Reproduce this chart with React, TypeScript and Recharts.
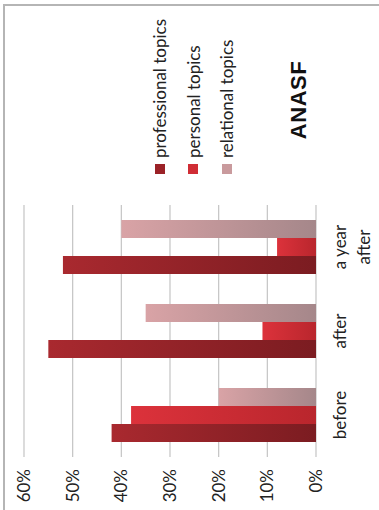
import { BarChart, Bar, XAxis, YAxis, CartesianGrid } from "recharts";

const categories = ["before", "after", "a year after"];
const tickLines = [["before"], ["after"], ["a year", "after"]];
const professional = [42, 55, 52];
const personal = [38, 11, 8];
const relational = [20, 35, 40];
const valueTicks = [0, 10, 20, 30, 40, 50, 60];

const SERIES = [
  { key: "professional", name: "professional topics", grad: "gProf", swatch: "#9b2227" },
  { key: "personal", name: "personal topics", grad: "gPers", swatch: "#d02d35" },
  { key: "relational", name: "relational topics", grad: "gRel", swatch: "#c99a9d" },
];

const data = categories.map((c, i) => ({
  category: c,
  professional: professional[i],
  personal: personal[i],
  relational: relational[i],
}));

const FONT = "Lato, 'Open Sans', sans-serif";

const CategoryTick = (props: any) => {
  const { x, y, index } = props;
  const lines = tickLines[index] || [String(props.payload.value)];
  return (
    <text x={x} y={y + 30} textAnchor="middle" fill="#222" fontSize={17} fontFamily={FONT}>
      {lines.map((l, i) => (
        <tspan key={i} x={x} dy={i === 0 ? 0 : 24}>
          {l}
        </tspan>
      ))}
    </text>
  );
};

// legend drawn by hand, next to the plot (chart is rotated as a whole)
const LegendBox = () => (
  <div
    style={{
      position: "absolute",
      left: 336,
      top: 143,
      width: 174,
      fontFamily: FONT,
      fontSize: 17,
      color: "#222",
    }}
  >
    {SERIES.map((s) => (
      <div key={s.key} style={{ height: 33.5, display: "flex", alignItems: "center" }}>
        <span style={{ width: 10, height: 10, background: s.swatch, marginRight: 6, display: "inline-block" }} />
        <span>{s.name}</span>
      </div>
    ))}
  </div>
);

export default function App() {
  return (
    <div style={{ position: "fixed", left: 0, top: 0, width: 379, height: 510, background: "#fff", overflow: "hidden" }}>
      <div
        style={{
          position: "absolute",
          left: 3,
          top: 4,
          width: 400,
          height: 520,
          borderLeft: "2px solid #b5b5b5",
          borderTop: "2px solid #b5b5b5",
        }}
      />
      <div
        style={{
          position: "absolute",
          left: 0,
          top: 0,
          width: 510,
          height: 379,
          transformOrigin: "0 0",
          transform: "translateY(510px) rotate(-90deg)",
        }}
      >
        <BarChart
          width={510}
          height={379}
          data={data}
          margin={{ top: 24, right: 205, bottom: 23, left: 0 }}
          barSize={18}
          barGap={0}
        >
          <defs>
            <linearGradient id="gProf" x1="0" y1="0" x2="0" y2="1">
              <stop offset="0%" stopColor="#a9292f" />
              <stop offset="100%" stopColor="#7b1c21" />
            </linearGradient>
            <linearGradient id="gPers" x1="0" y1="0" x2="0" y2="1">
              <stop offset="0%" stopColor="#dc323b" />
              <stop offset="100%" stopColor="#b9262d" />
            </linearGradient>
            <linearGradient id="gRel" x1="0" y1="0" x2="0" y2="1">
              <stop offset="0%" stopColor="#d9a3a6" />
              <stop offset="100%" stopColor="#a5878a" />
            </linearGradient>
          </defs>
          <CartesianGrid vertical={false} stroke="#c4c4c4" strokeWidth={1.2} />
          <XAxis
            dataKey="category"
            height={40}
            axisLine={false}
            tickLine={false}
            tickSize={0}
            tickMargin={0}
            interval={0}
            tick={<CategoryTick />}
          />
          <YAxis
            width={53}
            domain={[0, 60]}
            ticks={valueTicks}
            interval={0}
            tickFormatter={(v) => `${v}%`}
            axisLine={false}
            tickLine={false}
            tickSize={0}
            tickMargin={12}
            tick={{ fill: "#222", fontSize: 17, fontFamily: FONT }}
          />
          {SERIES.map((s) => (
            <Bar key={s.key} dataKey={s.key} name={s.name} fill={`url(#${s.grad})`} isAnimationActive={false} />
          ))}
        </BarChart>
        <LegendBox />
        <div
          style={{
            position: "absolute",
            left: 360,
            top: 287,
            width: 100,
            textAlign: "center",
            lineHeight: "24px",
            fontFamily: "'Liberation Sans', Arial, sans-serif",
            fontWeight: "bold",
            fontSize: 22,
            letterSpacing: 0.5,
            color: "#111",
          }}
        >
          ANASF
        </div>
      </div>
    </div>
  );
}
